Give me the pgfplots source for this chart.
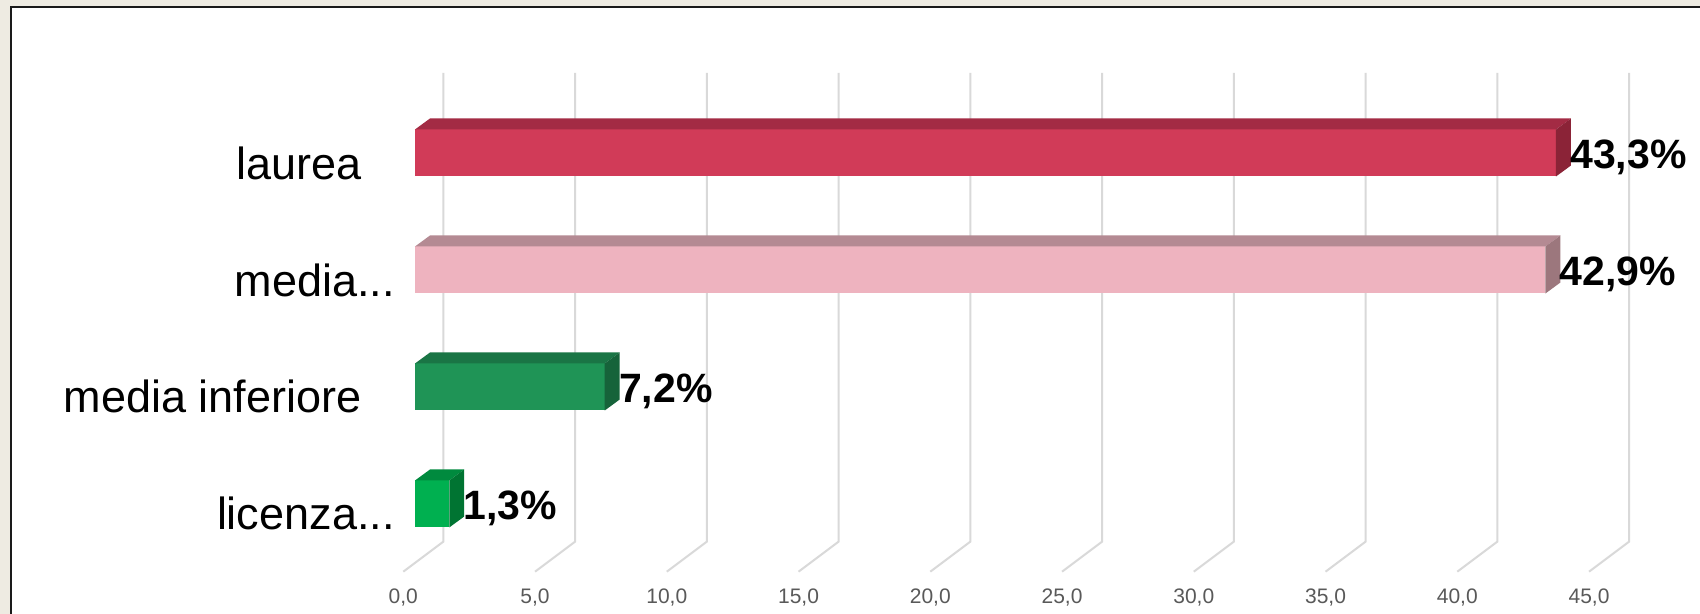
\documentclass[border=0pt]{standalone}
\usepackage{pgfplots}
\pgfplotsset{compat=1.18}
\usepackage{fontspec}
\setmainfont{Liberation Sans}
\definecolor{beige}{HTML}{EEEBE2}
\definecolor{frameblk}{HTML}{1A1A1A}
\definecolor{gridc}{HTML}{D9D9D9}
\definecolor{tickc}{HTML}{595959}
\definecolor{rF}{HTML}{D13B58}\definecolor{rT}{HTML}{A32B44}\definecolor{rS}{HTML}{8B2337}
\definecolor{pF}{HTML}{EEB3BF}\definecolor{pT}{HTML}{B48A93}\definecolor{pS}{HTML}{9C777D}
\definecolor{gF}{HTML}{1F9456}\definecolor{gT}{HTML}{1A7545}\definecolor{gS}{HTML}{16633A}
\definecolor{lF}{HTML}{00B050}\definecolor{lT}{HTML}{008A3E}\definecolor{lS}{HTML}{007432}
\begin{document}
\begin{tikzpicture}
\fill[beige] (0,0) rectangle (850pt,307pt);
\draw[frameblk, line width=1pt, fill=white] (5.5pt,303.5pt) -- (852pt,303.5pt) -- (852pt,-2pt) -- (5.5pt,-2pt) -- cycle;
\begin{axis}[
  at={(0,0)}, anchor=south west,
  scale only axis, width=850pt, height=307pt,
  xmin=-15.749, xmax=48.767, ymin=0, ymax=614,
  axis line style={draw=none}, major tick length=0pt,
  ytick=\empty,
  xtick={0,5,...,45},
  xticklabel style={anchor=base, inner sep=0pt, xshift=-5.85pt, yshift=5pt,
    font=\fontsize{10.5pt}{12pt}\selectfont, text=tickc},
  /pgf/number format/.cd, fixed, fixed zerofill, precision=1, use comma, assume math mode=true,
  /pgfplots/.cd,
  clip=false,
  nodes near coords={\pgfmathprintnumber[fixed, fixed zerofill, precision=1, use comma, assume math mode=true]{\pgfplotspointmeta}\%},
  point meta=x,
  nodes near coords style={anchor=base west, inner sep=0pt, xshift=7pt, yshift=-7.75pt,
    font=\fontsize{20.5pt}{24pt}\selectfont\bfseries, text=black},
]
% 3D wall gridlines
\pgfplotsinvokeforeach{0,5,...,45}{
  \draw[gridc, line width=1pt] (axis cs:#1+1.074,541) -- (axis cs:#1+1.074,72.3) -- (axis cs:#1-0.444,42.3);
}
% laurea 43.3
\addplot[xbar, bar width=47, bar shift=0pt, fill=rF, draw=none] coordinates {(43.3,461)};
\addplot[fill=rT, draw=none, nodes near coords={}] coordinates {(0,484.5) (43.3,484.5) (43.869,495.5) (0.569,495.5)} -- cycle;
\addplot[fill=rS, draw=none, nodes near coords={}] coordinates {(43.3,437.5) (43.869,448.5) (43.869,495.5) (43.3,484.5)} -- cycle;
% media superiore 42.9
\addplot[xbar, bar width=47, bar shift=0pt, fill=pF, draw=none] coordinates {(42.9,344)};
\addplot[fill=pT, draw=none, nodes near coords={}] coordinates {(0,367.5) (42.9,367.5) (43.469,378.5) (0.569,378.5)} -- cycle;
\addplot[fill=pS, draw=none, nodes near coords={}] coordinates {(42.9,320.5) (43.469,331.5) (43.469,378.5) (42.9,367.5)} -- cycle;
% media inferiore 7.2
\addplot[xbar, bar width=47, bar shift=0pt, fill=gF, draw=none] coordinates {(7.2,227)};
\addplot[fill=gT, draw=none, nodes near coords={}] coordinates {(0,250.5) (7.2,250.5) (7.769,261.5) (0.569,261.5)} -- cycle;
\addplot[fill=gS, draw=none, nodes near coords={}] coordinates {(7.2,203.5) (7.769,214.5) (7.769,261.5) (7.2,250.5)} -- cycle;
% licenza 1.3
\addplot[xbar, bar width=47, bar shift=0pt, fill=lF, draw=none] coordinates {(1.3,110)};
\addplot[fill=lT, draw=none, nodes near coords={}] coordinates {(0,133.5) (1.3,133.5) (1.869,144.5) (0.569,144.5)} -- cycle;
\addplot[fill=lS, draw=none, nodes near coords={}] coordinates {(1.3,86.5) (1.869,97.5) (1.869,144.5) (1.3,133.5)} -- cycle;
% category labels
\node[anchor=base east, inner sep=0pt, font=\fontsize{22.5pt}{27pt}\selectfont] at (axis cs:-2.011,434) {laurea};
\node[anchor=base east, inner sep=0pt, font=\fontsize{22.5pt}{27pt}\selectfont] at (axis cs:-0.759,317) {media...};
\node[anchor=base east, inner sep=0pt, font=\fontsize{22.5pt}{27pt}\selectfont] at (axis cs:-2.011,201) {media inferiore};
\node[anchor=base east, inner sep=0pt, font=\fontsize{22.5pt}{27pt}\selectfont] at (axis cs:-0.759,84) {licenza...};
\end{axis}
\pgfresetboundingbox
\useasboundingbox (0,0) rectangle (850pt,307pt);
\end{tikzpicture}
\end{document}
